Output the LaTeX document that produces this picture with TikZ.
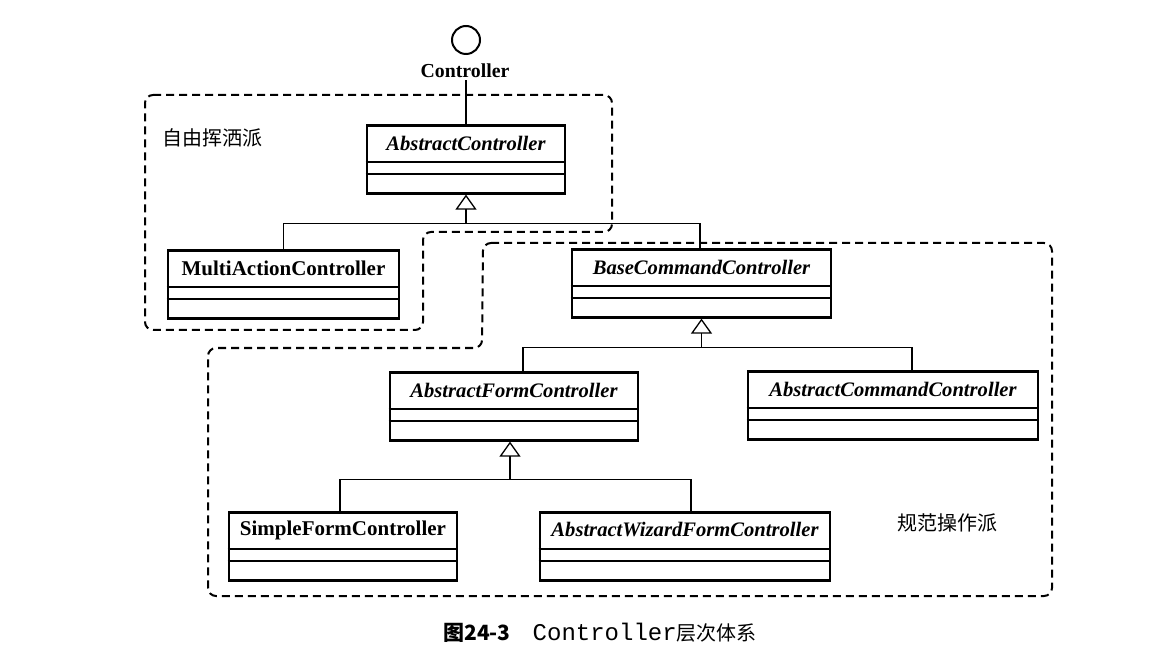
\documentclass[tikz,border=0pt]{standalone}
\usepackage{fontspec}
\setmainfont{Liberation Serif}
\setmonofont{Liberation Mono}
\newfontfamily\cjk{Noto Sans CJK SC}
\usetikzlibrary{calc,arrows.meta}
\newcommand\umlcls[6]{%
  \node[clsbox, minimum width=#4*0.5pt, anchor=north] (#1) at (#2,#3) {};
  \node[clstext,#5] (#1t) at ($(#1.north)+(0,19)$) {#6};
  \draw[sep] ($(#1.north west)+(0,38)$) -- ($(#1.north east)+(0,38)$);
  \draw[sep] ($(#1.north west)+(0,50)$) -- ($(#1.north east)+(0,50)$);}
\begin{document}
\begin{tikzpicture}[x=0.5pt,y=-0.5pt,
  clsbox/.style={draw, line width=1.3pt, inner sep=0pt, minimum height=34pt},
  clstext/.style={inner sep=0pt, font=\fontsize{10.5}{12}\selectfont\bfseries},
  abs/.style={font=\fontsize{10.3}{12}\selectfont\bfseries\itshape},
  sep/.style={line width=0.8pt},
  conn/.style={line width=0.65pt},
  gen/.style={conn, -{Triangle[open, length=7.5pt, width=10.5pt, line width=0.65pt]}},
  region/.style={line width=1pt, dash pattern=on 4pt off 2.5pt, rounded corners=4pt},
  cjklabel/.style={font=\cjk\fontsize{10}{12}\selectfont, inner sep=0pt}]
\useasboundingbox (0,0) rectangle (1171,662);

% regions
\draw[region] (145,95) -- (612,95) -- (612,232) -- (423,232) -- (423,330) -- (145,330) -- cycle;
\draw[region] (483,243) -- (1052,243) -- (1052,596) -- (208,596) -- (208,348) -- (482,348) -- cycle;

\node[cjklabel] (lfree) at (212,138) {自由挥洒派};
\node[cjklabel] (lnorm) at (947,523) {规范操作派};

% interface
\node[circle, draw, line width=1pt, minimum size=14pt, inner sep=0pt] (ifc) at (466,40) {};
\node[font=\fontsize{9.9}{12}\selectfont\bfseries, inner sep=1pt] (ifl) at (465,71) {Controller};

% classes
\umlcls{ac}{466}{124}{198}{abs}{AbstractController}
\umlcls{mac}{283.5}{249}{231}{}{MultiActionController}
\umlcls{bcc}{701.5}{248}{259}{abs}{BaseCommandController}
\umlcls{afc}{514}{371}{248}{abs}{AbstractFormController}
\umlcls{acc}{893}{370}{290}{abs}{AbstractCommandController}
\umlcls{sfc}{343}{511}{228}{}{SimpleFormController}
\umlcls{awfc}{685}{511}{290}{abs}{AbstractWizardFormController}

\draw[conn] (ifl.south -| ac.north) -- (ac.north);

\coordinate (j1) at ($(ac.south)+(0,29)$);
\draw[conn] (mac.north) |- (j1) -| ($(bcc.north)+(-1.5,0)$);
\draw[gen] (j1) -- (ac.south);

\coordinate (j2) at ($(bcc.south)+(0,29)$);
\draw[conn] ($(afc.north)+(9,0)$) |- (j2) -| ($(acc.north)+(19,0)$);
\draw[gen] (j2) -- (bcc.south);

\coordinate (j3) at ($(afc.south)+(-4,38)$);
\draw[conn] ($(sfc.north)+(-3,0)$) |- (j3) -| ($(awfc.north)+(6,0)$);
\draw[gen] (j3) -- ($(afc.south)+(-4,0)$);

% caption
\node[inner sep=0pt] (cap) at (600,633) {{\cjk\fontsize{10.5}{12}\selectfont\bfseries 图24-3}\hspace{11pt}{\ttfamily\fontsize{12}{12}\selectfont Controller}{\cjk\fontsize{10}{12}\selectfont 层次体系}};
\end{tikzpicture}
\end{document}
